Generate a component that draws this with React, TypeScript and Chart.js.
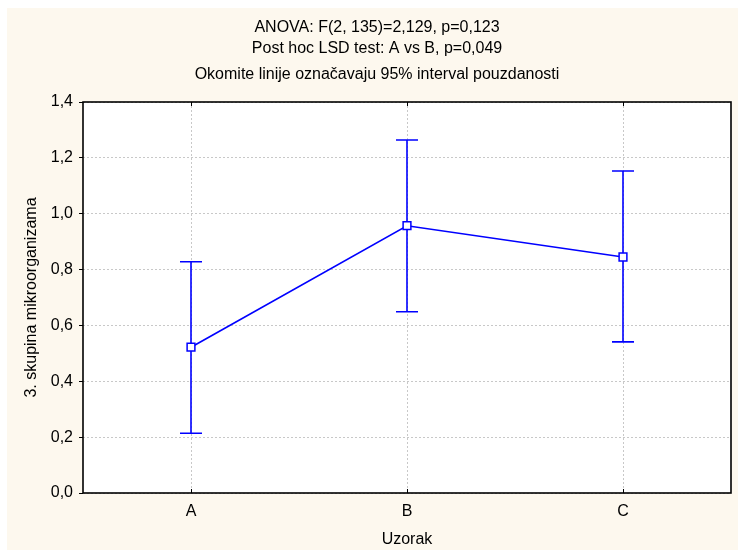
import React, { useEffect, useRef } from 'react';
import { Chart, registerables } from 'chart.js';

Chart.register(...registerables);

const categories = ['A', 'B', 'C'];
const means = [0.522, 0.957, 0.845];
const lower = [0.214, 0.649, 0.541];
const upper = [0.828, 1.264, 1.153];
const yTickValues = [0, 0.2, 0.4, 0.6, 0.8, 1.0, 1.2, 1.4];
const titleLines = ['ANOVA: F(2, 135)=2,129, p=0,123', 'Post hoc LSD test: A vs B, p=0,049'];
const subtitleText = 'Okomite linije označavaju 95% interval pouzdanosti';
const xTitle = 'Uzorak';
const yTitle = '3. skupina mikroorganizama';

const FONT = '"Liberation Sans", Arial, sans-serif';
const FS = 16;
const BLUE = '#0000ff';

const backgroundPlugin = {
  id: 'bgPlugin',
  beforeDraw(chart: any) {
    const { ctx, width, height, chartArea } = chart;
    ctx.save();
    ctx.fillStyle = '#ffffff';
    ctx.fillRect(0, 0, width, height);
    ctx.fillStyle = '#fdf8ee';
    ctx.fillRect(7, 8, width - 7, height - 11);
    ctx.fillStyle = '#ffffff';
    ctx.fillRect(chartArea.left, chartArea.top, chartArea.right - chartArea.left, chartArea.bottom - chartArea.top);
    ctx.restore();
  },
};

const framePlugin = {
  id: 'framePlugin',
  beforeDatasetsDraw(chart: any) {
    const { ctx, chartArea, scales } = chart;
    const xs = scales.x;
    ctx.save();
    ctx.strokeStyle = '#000000';
    ctx.lineWidth = 1.6;
    ctx.setLineDash([]);
    ctx.strokeRect(chartArea.left, chartArea.top, chartArea.right - chartArea.left, chartArea.bottom - chartArea.top);
    ctx.lineWidth = 1;
    categories.forEach((_, i) => {
      const x = Math.round(xs.getPixelForValue(i)) + 0.5;
      ctx.beginPath();
      ctx.moveTo(x, chartArea.top);
      ctx.lineTo(x, chartArea.top + 4);
      ctx.moveTo(x, chartArea.bottom);
      ctx.lineTo(x, chartArea.bottom - 4);
      ctx.stroke();
    });
    ctx.restore();
  },
};

const errorBarPlugin = {
  id: 'errorBarPlugin',
  beforeDatasetsDraw(chart: any) {
    const { ctx, scales } = chart;
    const xs = scales.x;
    const ys = scales.y;
    ctx.save();
    ctx.strokeStyle = BLUE;
    ctx.lineWidth = 1.6;
    ctx.setLineDash([]);
    const cap = 11;
    categories.forEach((_, i) => {
      const x = xs.getPixelForValue(i);
      const yLo = ys.getPixelForValue(lower[i]);
      const yHi = ys.getPixelForValue(upper[i]);
      ctx.beginPath();
      ctx.moveTo(x, yLo);
      ctx.lineTo(x, yHi);
      ctx.moveTo(x - cap, yLo);
      ctx.lineTo(x + cap, yLo);
      ctx.moveTo(x - cap, yHi);
      ctx.lineTo(x + cap, yHi);
      ctx.stroke();
    });
    ctx.restore();
  },
};

export default function App() {
  const canvasRef = useRef<HTMLCanvasElement | null>(null);

  useEffect(() => {
    if (!canvasRef.current) return;
    const chart = new Chart(canvasRef.current, {
      type: 'line',
      data: {
        labels: categories,
        datasets: [
          {
            data: means,
            borderColor: BLUE,
            borderWidth: 1.6,
            pointStyle: 'rect',
            pointRadius: 5.5,
            pointBackgroundColor: '#ffffff',
            pointBorderColor: BLUE,
            pointBorderWidth: 1.5,
            tension: 0,
            fill: false,
          },
        ],
      },
      options: {
        responsive: false,
        animation: false,
        devicePixelRatio: 1,
        layout: { padding: { left: 22, right: 6, top: 0, bottom: 0 } },
        plugins: {
          legend: { display: false },
          tooltip: { enabled: false },
          title: {
            display: true,
            text: titleLines,
            color: '#000000',
            font: { family: FONT, size: FS, weight: 'normal', lineHeight: 1.3125 },
            padding: { top: 17.5, bottom: 5 },
          },
          subtitle: {
            display: true,
            text: subtitleText,
            color: '#000000',
            font: { family: FONT, size: FS, weight: 'normal', lineHeight: 1.3125 },
            padding: { top: 0, bottom: 16.5 },
          },
        },
        scales: {
          x: {
            type: 'category',
            offset: true,
            afterFit(scale: any) {
              scale.height = 60;
            },
            grid: {
              display: true,
              color: '#c8c8c8',
              lineWidth: 1,
              drawTicks: false,
              offset: false,
            },
            border: { display: false, dash: [2, 2] },
            ticks: {
              color: '#000000',
              font: { family: FONT, size: FS },
              padding: 9,
            },
            title: {
              display: true,
              text: xTitle,
              color: '#000000',
              font: { family: FONT, size: FS },
              padding: { top: 0, bottom: 3.5 },
            },
          },
          y: {
            type: 'linear',
            min: 0,
            max: 1.4,
            afterFit(scale: any) {
              scale.width = 61;
            },
            afterBuildTicks(scale: any) {
              scale.ticks = yTickValues.map((v) => ({ value: v }));
            },
            grid: {
              display: true,
              color: '#c8c8c8',
              lineWidth: 1,
              drawTicks: true,
              tickLength: 4,
              tickColor: '#000000',
              tickBorderDash: [],
              tickWidth: 1,
            },
            border: { display: false, dash: [2, 2] },
            ticks: {
              color: '#000000',
              font: { family: FONT, size: FS },
              padding: 6,
              callback: (v: any) => Number(v).toFixed(1).replace('.', ','),
            },
            title: {
              display: true,
              text: yTitle,
              color: '#000000',
              font: { family: FONT, size: FS },
              padding: { top: 0, bottom: 0 },
            },
          },
        },
      },
      plugins: [backgroundPlugin, framePlugin, errorBarPlugin],
    } as any);
    return () => chart.destroy();
  }, []);

  return (
    <div style={{ position: 'fixed', left: 0, top: 0, width: 738, height: 553 }}>
      <canvas ref={canvasRef} width={738} height={553} style={{ display: 'block', width: 738, height: 553 }} />
    </div>
  );
}
